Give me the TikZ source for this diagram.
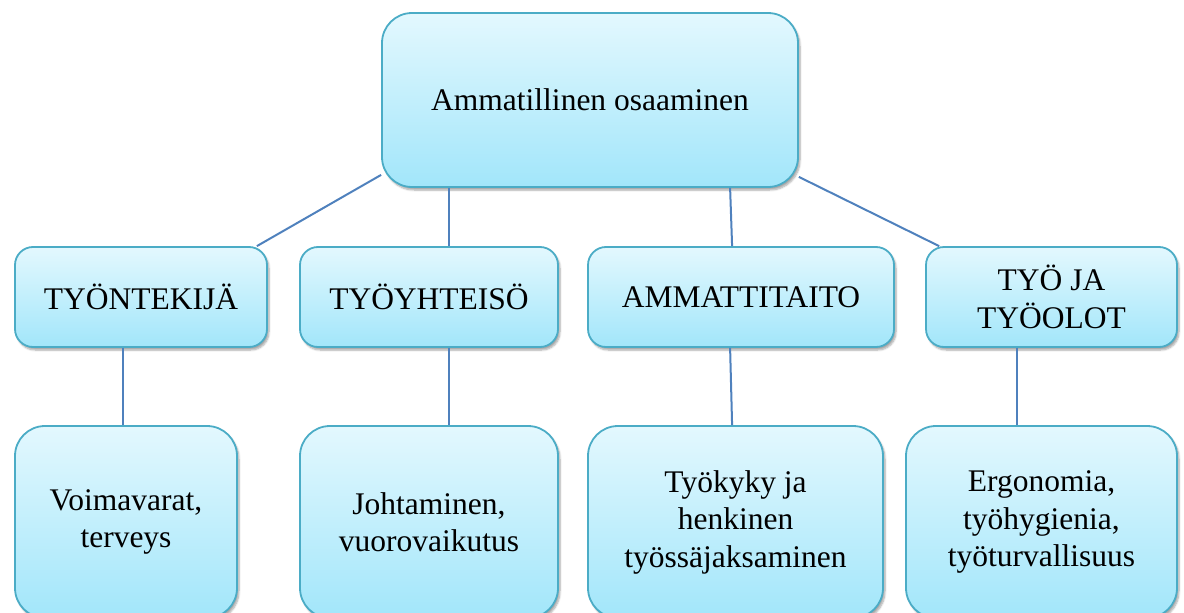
\documentclass[tikz,border=0pt]{standalone}
\usepackage{fontspec}
\setmainfont{Liberation Serif}
\usetikzlibrary{calc,shadows.blur}
\definecolor{boxtop}{HTML}{E3F8FE}
\definecolor{boxbot}{HTML}{A2E6FA}
\definecolor{boxline}{HTML}{4BACC6}
\definecolor{conline}{HTML}{4F81BD}
\tikzset{
  cbox/.style={draw=boxline, line width=1.8pt, top color=boxtop, bottom color=boxbot,
    blur shadow={shadow xshift=2pt, shadow yshift=-3pt, shadow opacity=35, shadow blur steps=6},
    align=center, inner sep=0pt, font=\fontsize{31.5}{37.5}\selectfont},
  conn/.style={draw=conline, line width=2pt}
}
\begin{document}
\begin{tikzpicture}[x=1pt,y=-1pt]
\useasboundingbox (0,0) rectangle (1184,613);
\node[cbox, rounded corners=30pt, minimum width=416pt, minimum height=174pt] (top) at (590,100) {Ammatillinen osaaminen};
\node[cbox, rounded corners=18pt, minimum width=252pt, minimum height=100pt] (n1) at (141,297) {TYÖNTEKIJÄ};
\node[cbox, rounded corners=18pt, minimum width=258pt, minimum height=100pt] (n2) at (429,297) {TYÖYHTEISÖ};
\node[cbox, rounded corners=18pt, minimum width=306pt, minimum height=100pt] (n3) at (741,297) {AMMATTITAITO};
\node[cbox, rounded corners=18pt, minimum width=251pt, minimum height=100pt] (n4) at (1051.5,297) {TYÖ JA\\TYÖOLOT};
\node[cbox, rounded corners=30pt, minimum width=222pt, minimum height=192pt] (b1) at (126,522) {Voimavarat,\\terveys};
\node[cbox, rounded corners=30pt, minimum width=258pt, minimum height=192pt] (b2) at (429,522) {Johtaminen,\\vuorovaikutus};
\node[cbox, rounded corners=30pt, minimum width=295pt, minimum height=192pt] (b3) at (735.5,522) {Työkyky ja\\henkinen\\työssäjaksaminen};
\node[cbox, rounded corners=30pt, minimum width=271pt, minimum height=192pt] (b4) at (1041.5,522) {Ergonomia,\\työhygienia,\\työturvallisuus};
\draw[conn] ($(top.south west)+(0,-13)$) -- ($(n1.north east)+(-11,0)$);
\draw[conn] ($(top.south west)+(68,0)$) -- ($(n2.north west)+(150,0)$);
\draw[conn] ($(top.south west)+(349,0)$) -- ($(n3.north west)+(145,0)$);
\draw[conn] ($(top.south east)+(0,-11)$) -- ($(n4.north west)+(14,0)$);
\draw[conn] ($(n1.south west)+(109,0)$) -- ($(b1.north west)+(109,0)$);
\draw[conn] ($(n2.south west)+(150,0)$) -- ($(b2.north west)+(150,0)$);
\draw[conn] ($(n3.south west)+(143,0)$) -- ($(b3.north west)+(145,0)$);
\draw[conn] ($(n4.south west)+(92,0)$) -- ($(b4.north west)+(112,0)$);
\end{tikzpicture}
\end{document}
